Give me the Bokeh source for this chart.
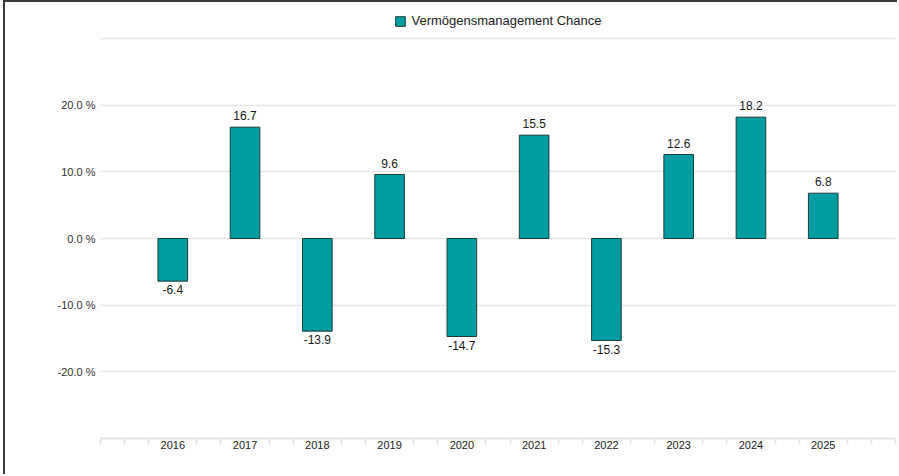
from bokeh.plotting import figure
from bokeh.models import ColumnDataSource, FixedTicker, Legend, LegendItem, Range1d
from bokeh.core.properties import value
from bokeh.embed import file_html
from bokeh.resources import INLINE

years = [2016, 2017, 2018, 2019, 2020, 2021, 2022, 2023, 2024, 2025]
returns = [-6.4, 16.7, -13.9, 9.6, -14.7, 15.5, -15.3, 12.6, 18.2, 6.8]
y_ticks = [-30, -20, -10, 0, 10, 20, 30]
y_tick_labels = ["", "-20.0 %", "-10.0 %", "0.0 %", "10.0 %", "20.0 %", ""]
series_name = "Vermögensmanagement Chance"

FONT = "Liberation Sans"
BAR = "#009c9f"

x_lo, x_hi = years[0] - 1, years[-1] + 1
y_lo, y_hi = -30, 35.4  # headroom above the 30 % line holds the legend

p = figure(width=894, height=474, output_backend="svg", toolbar_location=None,
           x_range=Range1d(x_lo, x_hi), y_range=Range1d(y_lo, y_hi),
           min_border_left=95, min_border_right=4, min_border_top=0, min_border_bottom=38)
p.styles = {"margin-left": "3px", "border-left": "2px solid #3c3c3c",
            "border-top": "2px solid #3c3c3c"}
p.outline_line_color = None
p.background_fill_color = "white"

src = ColumnDataSource(dict(x=years, top=returns))
bars = p.vbar(x="x", top="top", bottom=0, width=0.41, source=src,
              fill_color=BAR, line_color="#1f3d3d", line_width=1)

pos_src = ColumnDataSource(dict(x=[x for x, v in zip(years, returns) if v >= 0],
                                y=[v for v in returns if v >= 0],
                                t=[f"{v:.1f}" for v in returns if v >= 0]))
neg_src = ColumnDataSource(dict(x=[x for x, v in zip(years, returns) if v < 0],
                                y=[v for v in returns if v < 0],
                                t=[f"{v:.1f}" for v in returns if v < 0]))
p.text(x="x", y="y", text="t", source=pos_src, text_align="center",
       text_baseline="bottom", y_offset=-7, text_font=value(FONT),
       text_font_size="12px", text_color="#1a1a1a")
p.text(x="x", y="y", text="t", source=neg_src, text_align="center",
       text_baseline="top", y_offset=4, text_font=value(FONT),
       text_font_size="12px", text_color="#1a1a1a")

# y axis
p.yaxis.ticker = FixedTicker(ticks=y_ticks)
p.yaxis.major_label_overrides = {t: l for t, l in zip(y_ticks, y_tick_labels)}
p.yaxis.axis_line_color = None
p.yaxis.major_tick_line_color = None
p.yaxis.major_tick_out = 0
p.yaxis.major_tick_in = 0
p.yaxis.minor_tick_line_color = None
p.yaxis.minor_tick_out = 0
p.yaxis.major_label_text_font = FONT
p.yaxis.major_label_text_font_size = "11px"
p.yaxis.major_label_text_color = "#333333"
p.yaxis.major_label_standoff = 5
p.ygrid.ticker = FixedTicker(ticks=y_ticks[1:])
p.ygrid.grid_line_color = "#e6e6e6"
p.ygrid.grid_line_width = 1.5

# x axis
minor = [x_lo + i / 3 for i in range(int((x_hi - x_lo) * 3) + 1) if i % 3 != 0] + [x_lo, x_hi]
p.xaxis.ticker = FixedTicker(ticks=years, minor_ticks=minor)
p.xaxis.axis_line_color = "#e3e3e3"
p.xaxis.axis_line_width = 2
p.xaxis.major_tick_line_color = None
p.xaxis.major_tick_out = 0
p.xaxis.major_tick_in = 0
p.xaxis.minor_tick_line_color = "#e3e3e3"
p.xaxis.minor_tick_line_width = 1.5
p.xaxis.minor_tick_in = 0
p.xaxis.minor_tick_out = 6
p.xaxis.major_label_text_font = FONT
p.xaxis.major_label_text_font_size = "11px"
p.xaxis.major_label_text_color = "#222222"
p.xaxis.major_label_standoff = -4
p.xgrid.grid_line_color = None

legend = Legend(items=[LegendItem(label=series_name, renderers=[bars])],
                orientation="horizontal", location="top_center",
                label_text_font=FONT, label_text_font_size="13px",
                label_text_color="#222222", glyph_width=12, glyph_height=12,
                padding=4, margin=11, border_line_color=None, spacing=6,
                label_standoff=6, background_fill_alpha=0)
p.add_layout(legend, "center")

open("out.html", "w").write(file_html(p, INLINE))
